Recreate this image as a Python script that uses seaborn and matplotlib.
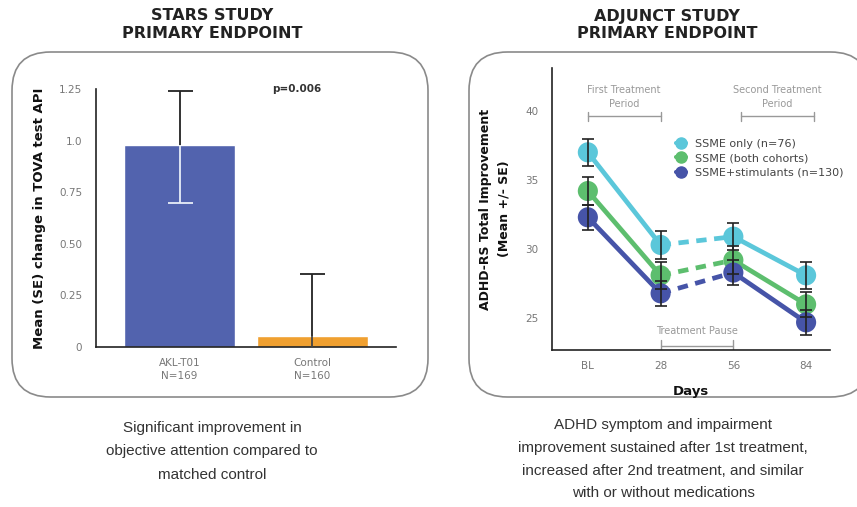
import numpy as np
import pandas as pd
import seaborn as sns
import matplotlib.pyplot as plt
from matplotlib.patches import FancyBboxPatch
from matplotlib.lines import Line2D

# STARS study bars
groups = ['AKL-T01\nN=169', 'Control\nN=160']
bar_means = [0.98, 0.055]
bar_err_up = [0.26, 0.30]
bar_err_low = [0.28, 0.30]
bar_colors = ['#5263AE', '#F0A030']

# Adjunct study lines
days = [0, 28, 56, 84]
day_labels = ['BL', '28', '56', '84']
series_names = ['SSME only (n=76)', 'SSME (both cohorts)', 'SSME+stimulants (n=130)']
ssme_only = [37.0, 30.3, 30.9, 28.1]
ssme_both = [34.2, 28.1, 29.2, 26.0]
ssme_stim = [32.3, 26.8, 28.3, 24.7]
err_only = [1.0, 1.0, 1.0, 1.0]
err_both = [1.0, 1.0, 1.0, 0.9]
err_stim = [0.9, 0.9, 0.9, 0.9]
line_colors = ['#5BC7DA', '#5DBE6E', '#4654A8']

sns.set_style('white')
plt.rcParams['font.family'] = ['DejaVu Sans']

fig = plt.figure(figsize=(8.57, 5.07), dpi=100)

# rounded panels
for x0, w in [(12, 416), (469, 400)]:
    box = FancyBboxPatch((x0 / 857, 110 / 507), w / 857, 345 / 507,
                         boxstyle='round,pad=0,rounding_size=0.045',
                         transform=fig.transFigure, facecolor='white',
                         edgecolor='#8a8a8a', linewidth=1.2, zorder=-5,
                         mutation_aspect=857 / 507)
    fig.patches.append(box)

title_kw = dict(ha='center', va='center', fontsize=11.5, fontweight='bold', color='#222222')
fig.text(212 / 857, 1 - 16 / 507, 'STARS STUDY', **title_kw)
fig.text(212 / 857, 1 - 33 / 507, 'PRIMARY ENDPOINT', **title_kw)
fig.text(667 / 857, 1 - 16 / 507, 'ADJUNCT STUDY', **title_kw)
fig.text(667 / 857, 1 - 33 / 507, 'PRIMARY ENDPOINT', **title_kw)

cap_kw = dict(ha='center', va='top', fontsize=11, color='#333333',
              family=['Liberation Sans Narrow', 'Liberation Sans'], linespacing=1.85)
fig.text(212 / 857, 1 - 421 / 507,
         'Significant improvement in\nobjective attention compared to\nmatched control', **cap_kw)
fig.text(663 / 857, 1 - 418 / 507,
         'ADHD symptom and impairment\nimprovement sustained after 1st treatment,\n'
         'increased after 2nd treatment, and similar\nwith or without medications',
         **dict(cap_kw, linespacing=1.8))

# ---- left chart
ax1 = fig.add_axes([96 / 857, 1 - 347 / 507, 300 / 857, 258 / 507])
df_bar = pd.DataFrame({'group': groups, 'mean': bar_means})
sns.barplot(data=df_bar, x='group', y='mean', hue='group', palette=bar_colors,
            width=0.835, legend=False, ax=ax1, saturation=1)
xs = np.arange(len(groups))
# upper error (black), lower error of first bar drawn light over the bar
up = ax1.errorbar(xs, bar_means, yerr=[[0, 0], bar_err_up], fmt='none',
                  ecolor='#222222', elinewidth=1.3, capsize=9, capthick=1.3, zorder=5)
up[1][0].set_visible(False)
lo = ax1.errorbar(xs[:1], bar_means[:1], yerr=[bar_err_low[:1], [0]], fmt='none',
                  ecolor='#e8eef8', elinewidth=1.3, capsize=9, capthick=1.3, zorder=5)
lo[1][1].set_visible(False)
ctrl = ax1.errorbar(xs[1:], bar_means[1:], yerr=[bar_err_low[1:], [0]], fmt='none',
                    ecolor='#444444', elinewidth=1.3, capsize=0, zorder=5)
ax1.set_xlim(-0.628, 1.628)
ax1.set_ylim(0, 1.25)
ax1.set_yticks([0, 0.25, 0.5, 0.75, 1.0, 1.25])
ax1.set_yticklabels(['0', '0.25', '0.50', '0.75', '1.0', '1.25'])
ax1.set_xlabel('')
ax1.set_ylabel('Mean (SE) change in TOVA test API', fontsize=9.5, fontweight='bold',
               color='#111111', labelpad=9)
ax1.tick_params(axis='y', direction='inout', length=8, width=1.2, labelsize=7.5,
                labelcolor='#777777', colors='#222222', pad=6)
ax1.tick_params(axis='y', labelcolor='#777777')
ax1.tick_params(axis='x', length=0, labelsize=7.5, labelcolor='#777777', pad=8)
for lab in ax1.get_xticklabels():
    lab.set_linespacing(1.4)
sns.despine(ax=ax1)
for s in ['left', 'bottom']:
    ax1.spines[s].set_color('#222222')
    ax1.spines[s].set_linewidth(1.2)
ax1.text(0.88, 1.25, 'p=0.006', ha='center', va='center', fontsize=7.5,
         fontweight='bold', color='#333333')
ax1.patch.set_alpha(0)

# ---- right chart
ax2 = fig.add_axes([552 / 857, 1 - 350 / 507, 278 / 857, 282 / 507])
values = [ssme_only, ssme_both, ssme_stim]
errors = [err_only, err_both, err_stim]
rows = []
for name, vals, errs in zip(series_names, values, errors):
    for d, v, e in zip(days, vals, errs):
        rows.append({'series': name, 'day': d, 'value': v, 'err': e})
df_line = pd.DataFrame(rows)
pal = dict(zip(series_names, line_colors))

segments = [((0, 28), '-'), ((28, 56), (0, (2.2, 1.6))), ((56, 84), '-')]
for (d0, d1), ls in segments:
    seg = df_line[df_line['day'].isin([d0, d1])]
    sns.lineplot(data=seg, x='day', y='value', hue='series', palette=pal,
                 estimator=None, linewidth=3.4, linestyle=ls, legend=False, ax=ax2,
                 zorder=2)
sns.scatterplot(data=df_line, x='day', y='value', hue='series', palette=pal,
                s=210, linewidth=0, legend=False, ax=ax2, zorder=3)
for name in series_names:
    sub = df_line[df_line['series'] == name]
    ax2.errorbar(sub['day'], sub['value'], yerr=sub['err'], fmt='none',
                 ecolor='#222222', elinewidth=1.2, capsize=4, capthick=1.2, zorder=4)

ax2.set_xlim(-13.8, 93.2)
ax2.set_ylim(22.7, 43.1)
ax2.set_xticks(days)
ax2.set_xticklabels(day_labels)
ax2.set_yticks([25, 30, 35, 40])
ax2.set_xlabel('Days', fontsize=9.5, fontweight='bold', color='#111111', labelpad=10)
ax2.set_ylabel('ADHD-RS Total Improvement\n(Mean +/- SE)', fontsize=9, fontweight='bold',
               color='#111111', labelpad=10, linespacing=1.6)
ax2.tick_params(axis='y', direction='inout', length=8, width=1.2, labelsize=7.5,
                labelcolor='#777777', colors='#222222', pad=6)
ax2.tick_params(axis='y', labelcolor='#777777')
ax2.tick_params(axis='x', length=0, labelsize=7.5, labelcolor='#777777', pad=8)
sns.despine(ax=ax2)
for s in ['left', 'bottom']:
    ax2.spines[s].set_color('#222222')
    ax2.spines[s].set_linewidth(1.2)
ax2.patch.set_alpha(0)

# period annotations
ann_kw = dict(ha='center', va='center', fontsize=7, color='#999999', linespacing=1.5)
br_kw = dict(color='#999999', linewidth=1.0)
ax2.text(14, 41.0, 'First Treatment\nPeriod', **ann_kw)
ax2.plot([0, 28], [39.6, 39.6], **br_kw)
ax2.plot([0, 0], [39.3, 39.9], **br_kw)
ax2.plot([28, 28], [39.3, 39.9], **br_kw)
ax2.text(73, 41.0, 'Second Treatment\nPeriod', **ann_kw)
ax2.plot([59, 87], [39.6, 39.6], **br_kw)
ax2.plot([59, 59], [39.3, 39.9], **br_kw)
ax2.plot([87, 87], [39.3, 39.9], **br_kw)
ax2.text(42, 24.1, 'Treatment Pause', **ann_kw)
ax2.plot([28, 56], [23.0, 23.0], **br_kw)
ax2.plot([28, 28], [22.7, 23.4], **br_kw)
ax2.plot([56, 56], [22.7, 23.4], **br_kw)

handles = [Line2D([0], [0], color=c, marker='o', markersize=8, linewidth=3)
           for c in line_colors]
leg = ax2.legend(handles, series_names, loc='upper left', bbox_to_anchor=(0.43, 0.765),
                 frameon=False, fontsize=8, handlelength=0.9, handletextpad=0.8,
                 labelspacing=0.4, borderaxespad=0)
for t in leg.get_texts():
    t.set_color('#444444')

fig.savefig('out.png', dpi=100)
